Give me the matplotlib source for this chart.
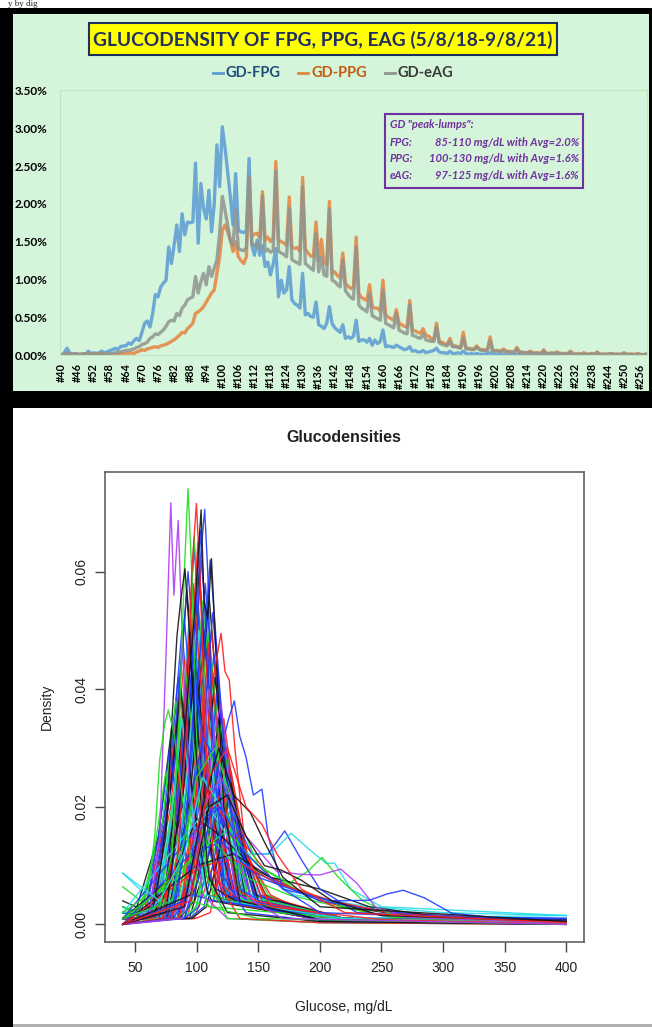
import matplotlib
matplotlib.use('Agg')
import matplotlib.pyplot as plt
from matplotlib.patches import Rectangle
from matplotlib.lines import Line2D

# tamanho da imagem em pixels
W, H = 652, 1027

# --- dados do grafico de cima (percentual por valor de glicose) ---
glicose = list(range(40, 259))

fpg = [
    0.00, 0.03, 0.09, 0.03, 0.01, 0.02, 0.01, 0.01, 0.02, 0.01,
    0.05, 0.02, 0.03, 0.02, 0.03, 0.05, 0.03, 0.04, 0.06, 0.07,
    0.09, 0.07, 0.11, 0.12, 0.12, 0.16, 0.14, 0.19, 0.22, 0.19,
    0.30, 0.42, 0.45, 0.37, 0.55, 0.80, 0.77, 0.90, 0.95, 0.99,
    1.43, 1.21, 1.45, 1.72, 1.37, 1.87, 1.59, 1.76, 1.75, 1.76,
    2.54, 1.48, 2.27, 1.94, 1.80, 2.18, 1.63, 2.00, 2.78, 2.23,
    3.02, 2.75, 2.42, 2.10, 1.72, 2.40, 1.65, 1.63, 1.62, 1.65,
    2.60, 1.46, 1.32, 1.52, 1.32, 1.45, 1.17, 1.23, 1.06, 1.20,
    1.41, 0.77, 0.99, 0.82, 0.86, 1.17, 0.73, 0.68, 0.66, 0.62,
    1.08, 0.53, 0.55, 0.51, 0.50, 0.70, 0.40, 0.38, 0.35, 0.42,
    0.64, 0.42, 0.36, 0.33, 0.30, 0.40, 0.22, 0.24, 0.22, 0.25,
    0.46, 0.18, 0.20, 0.20, 0.17, 0.22, 0.13, 0.20, 0.15, 0.18,
    0.33, 0.11, 0.12, 0.11, 0.10, 0.13, 0.11, 0.09, 0.07, 0.08,
    0.11, 0.05, 0.06, 0.04, 0.04, 0.06, 0.03, 0.04, 0.05, 0.06,
    0.09, 0.04, 0.03, 0.03, 0.02, 0.05, 0.02, 0.02, 0.03, 0.02,
    0.05, 0.02, 0.01, 0.02, 0.01, 0.02, 0.01, 0.01, 0.01, 0.02,
    0.03, 0.01, 0.01, 0.00, 0.01, 0.01, 0.00, 0.01, 0.00, 0.00,
    0.01, 0.00, 0.00, 0.01, 0.00, 0.01, 0.00, 0.00, 0.00, 0.00,
    0.01, 0.00, 0.00, 0.00, 0.00, 0.01, 0.00, 0.00, 0.00, 0.00,
    0.01, 0.00, 0.00, 0.00, 0.00, 0.00, 0.00, 0.00, 0.00, 0.00,
    0.01, 0.00, 0.00, 0.00, 0.00, 0.00, 0.00, 0.00, 0.00, 0.00,
    0.01, 0.00, 0.00, 0.00, 0.00, 0.00, 0.00, 0.00, 0.00,
]

ppg = [
    0.00, 0.01, 0.02, 0.01, 0.01, 0.00, 0.01, 0.00, 0.01, 0.01,
    0.02, 0.01, 0.01, 0.02, 0.01, 0.01, 0.01, 0.00, 0.01, 0.01,
    0.01, 0.01, 0.02, 0.01, 0.02, 0.02, 0.03, 0.02, 0.04, 0.05,
    0.07, 0.06, 0.08, 0.09, 0.10, 0.11, 0.10, 0.12, 0.13, 0.14,
    0.16, 0.18, 0.20, 0.23, 0.26, 0.30, 0.29, 0.35, 0.38, 0.42,
    0.55, 0.57, 0.60, 0.64, 0.70, 0.76, 0.82, 0.86, 1.08, 1.30,
    1.65, 1.72, 1.63, 1.52, 1.37, 1.50, 1.30, 1.25, 1.21, 1.30,
    2.32, 1.57, 1.60, 1.61, 1.55, 2.16, 1.52, 1.56, 1.50, 1.55,
    2.56, 1.52, 1.50, 1.48, 1.45, 2.09, 1.43, 1.41, 1.42, 1.37,
    2.35, 1.40, 1.35, 1.31, 1.30, 1.76, 1.25, 1.53, 1.22, 1.20,
    2.03, 1.08, 1.10, 1.05, 1.02, 1.35, 0.95, 0.91, 0.88, 0.90,
    1.56, 0.81, 0.76, 0.74, 0.72, 0.93, 0.64, 0.62, 0.62, 0.58,
    0.99, 0.53, 0.50, 0.48, 0.46, 0.60, 0.42, 0.40, 0.38, 0.37,
    0.72, 0.33, 0.32, 0.30, 0.29, 0.35, 0.26, 0.25, 0.22, 0.20,
    0.42, 0.18, 0.17, 0.15, 0.14, 0.22, 0.12, 0.12, 0.11, 0.10,
    0.30, 0.09, 0.09, 0.08, 0.08, 0.12, 0.08, 0.07, 0.07, 0.07,
    0.24, 0.06, 0.06, 0.06, 0.05, 0.08, 0.05, 0.05, 0.04, 0.04,
    0.10, 0.04, 0.04, 0.03, 0.03, 0.05, 0.03, 0.03, 0.03, 0.02,
    0.07, 0.02, 0.02, 0.03, 0.02, 0.04, 0.02, 0.02, 0.02, 0.02,
    0.05, 0.02, 0.01, 0.02, 0.01, 0.03, 0.01, 0.01, 0.02, 0.01,
    0.04, 0.01, 0.01, 0.01, 0.01, 0.02, 0.01, 0.01, 0.01, 0.01,
    0.03, 0.01, 0.01, 0.01, 0.01, 0.02, 0.01, 0.00, 0.01,
]

eag = [
    0.00, 0.01, 0.03, 0.01, 0.01, 0.01, 0.01, 0.00, 0.01, 0.01,
    0.02, 0.01, 0.01, 0.01, 0.01, 0.02, 0.01, 0.01, 0.02, 0.02,
    0.03, 0.03, 0.04, 0.05, 0.06, 0.06, 0.07, 0.08, 0.10, 0.11,
    0.14, 0.15, 0.17, 0.22, 0.24, 0.28, 0.27, 0.30, 0.33, 0.38,
    0.44, 0.46, 0.45, 0.55, 0.52, 0.62, 0.66, 0.73, 0.75, 0.77,
    1.04, 0.82, 0.97, 1.08, 0.93, 1.17, 1.04, 1.15, 1.26, 1.61,
    2.10, 1.92, 1.72, 1.52, 1.45, 1.92, 1.41, 1.39, 1.38, 1.42,
    2.36, 1.48, 1.45, 1.46, 1.40, 2.10, 1.37, 1.40, 1.36, 1.38,
    2.43, 1.37, 1.35, 1.33, 1.30, 1.94, 1.26, 1.24, 1.22, 1.20,
    2.23, 1.21, 1.18, 1.15, 1.12, 1.61, 1.10, 1.30, 1.06, 1.04,
    1.93, 0.99, 0.97, 0.93, 0.90, 1.26, 0.85, 0.80, 0.76, 0.74,
    1.43, 0.66, 0.62, 0.60, 0.57, 0.81, 0.52, 0.50, 0.48, 0.46,
    0.86, 0.42, 0.40, 0.38, 0.36, 0.55, 0.33, 0.31, 0.29, 0.28,
    0.66, 0.26, 0.25, 0.23, 0.22, 0.28, 0.20, 0.19, 0.18, 0.18,
    0.37, 0.16, 0.14, 0.13, 0.12, 0.18, 0.11, 0.11, 0.10, 0.09,
    0.22, 0.08, 0.08, 0.07, 0.07, 0.10, 0.07, 0.06, 0.06, 0.06,
    0.19, 0.05, 0.05, 0.05, 0.04, 0.06, 0.04, 0.04, 0.04, 0.03,
    0.08, 0.03, 0.03, 0.03, 0.03, 0.04, 0.02, 0.02, 0.02, 0.02,
    0.05, 0.02, 0.02, 0.02, 0.02, 0.03, 0.02, 0.02, 0.01, 0.01,
    0.04, 0.01, 0.01, 0.01, 0.01, 0.02, 0.01, 0.01, 0.01, 0.01,
    0.03, 0.01, 0.01, 0.01, 0.01, 0.02, 0.01, 0.01, 0.01, 0.01,
    0.02, 0.01, 0.01, 0.01, 0.00, 0.01, 0.01, 0.00, 0.01,
]

nomes_series = ['GD-FPG', 'GD-PPG', 'GD-eAG']
rotulos_x = ['#%d' % v for v in range(40, 257, 6)]
caixa_texto = [
    ('FPG:', '85-110 mg/dL with Avg=2.0%'),
    ('PPG:', '100-130 mg/dL with Avg=1.6%'),
    ('eAG:', '97-125 mg/dL with Avg=1.6%'),
]

# --- dados do grafico de baixo: curvas de densidade ---
# (cor, pontos de glicose, densidade)
curvas = [
    ('b', [40, 58, 77, 88, 100, 120, 200, 400], [.001, .001, .022, .050, .022, .004, .0008, .0002]),
    ('k', [40, 62, 81, 92, 104, 124, 200, 400], [.002, .001, .026, .057, .026, .004, .0008, .0002]),
    ('r', [40, 65, 84, 95, 107, 127, 200, 400], [.001, .001, .023, .052, .023, .005, .001, .0002]),
    ('g', [40, 67, 86, 97, 109, 129, 200, 400], [.0064, .002, .026, .058, .026, .004, .0008, .0001]),
    ('b', [40, 68, 87, 98, 110, 130, 200, 400], [.003, .001, .029, .064, .029, .004, .0008, .0002]),
    ('c', [40, 69, 88, 99, 111, 131, 200, 400], [.0087, .003, .022, .048, .022, .004, .001, .0015]),
    ('m', [40, 71, 90, 101, 113, 133, 200, 400], [0, .001, .020, .045, .020, .004, .0008, .0001]),
    ('k', [40, 72, 91, 102, 114, 134, 200, 400], [.004, .001, .027, .060, .027, .004, .0008, .0008]),
    ('r', [40, 74, 93, 104, 116, 136, 200, 400], [.001, .001, .028, .062, .028, .004, .0008, .0002]),
    ('g', [40, 75, 94, 105, 117, 137, 200, 400], [.001, .001, .025, .055, .025, .004, .0008, .0002]),
    ('b', [40, 77, 96, 107, 119, 139, 200, 400], [.002, .001, .026, .058, .026, .004, .001, .001]),
    ('c', [40, 78, 97, 108, 120, 140, 200, 400], [.001, .001, .023, .052, .023, .004, .0008, .0002]),
    ('k', [40, 80, 99, 110, 122, 142, 200, 400], [.001, .001, .025, .056, .025, .004, .0008, .0002]),
    ('r', [40, 82, 101, 112, 124, 144, 200, 400], [.001, .001, .022, .050, .022, .005, .001, .0002]),
    ('g', [40, 72, 89, 98, 107, 125, 200, 400], [.001, .001, .030, .066, .030, .004, .0008, .0002]),
    ('b', [40, 75, 93, 103, 113, 133, 200, 400], [.001, .001, .030, .067, .030, .004, .0008, .0002]),
    ('k', [40, 66, 85, 96, 108, 128, 200, 400], [.001, .001, .022, .050, .022, .004, .0008, .0002]),
    ('r', [40, 60, 79, 90, 102, 122, 200, 400], [.001, .001, .020, .045, .020, .004, .0008, .0002]),
    ('b', [40, 55, 74, 85, 97, 117, 200, 400], [.002, .002, .019, .042, .019, .004, .0008, .0002]),
    ('g', [40, 53, 72, 83, 95, 115, 200, 400], [.003, .002, .017, .038, .017, .004, .0008, .0002]),
    ('k', [40, 50, 69, 80, 92, 112, 200, 400], [.002, .002, .015, .034, .015, .004, .0008, .0002]),
    ('b', [40, 84, 103, 114, 126, 146, 200, 400], [.001, .001, .021, .046, .021, .005, .001, .0002]),
    ('r', [40, 86, 105, 116, 128, 148, 200, 400], [.001, .001, .020, .044, .020, .005, .001, .0002]),
    ('c', [40, 88, 107, 118, 130, 150, 200, 400], [.001, .001, .018, .040, .018, .005, .001, .0002]),
    ('b', [40, 90, 109, 120, 132, 152, 200, 400], [.001, .001, .016, .036, .016, .005, .001, .0002]),
    ('k', [40, 94, 113, 124, 136, 156, 200, 400], [.001, .001, .014, .030, .014, .005, .001, .0003]),
    ('g', [40, 96, 115, 126, 138, 158, 200, 400], [.001, .001, .013, .028, .013, .005, .001, .0003]),
    ('r', [40, 98, 117, 128, 140, 160, 200, 400], [.001, .001, .012, .026, .012, .005, .001, .0003]),
    ('b', [40, 63, 82, 93, 105, 125, 200, 400], [.001, .001, .027, .060, .027, .004, .0008, .0002]),
    ('c', [40, 65, 84, 95, 107, 127, 200, 400], [.001, .001, .025, .055, .025, .004, .0008, .0002]),
    ('m', [40, 67, 86, 97, 109, 129, 200, 400], [.001, .001, .023, .052, .023, .004, .0008, .0002]),
    ('r', [40, 73, 90, 101, 110, 128, 200, 400], [.001, .001, .029, .065, .029, .004, .0008, .0002]),
    ('b', [40, 81, 100, 111, 123, 143, 200, 400], [.001, .001, .028, .062, .028, .005, .001, .0002]),
    ('g', [40, 79, 98, 109, 121, 141, 200, 400], [.001, .001, .022, .050, .022, .004, .0008, .0002]),
    ('k', [40, 85, 104, 115, 127, 147, 200, 400], [.001, .001, .019, .042, .019, .005, .001, .0002]),
    ('b', [40, 70, 89, 100, 112, 132, 200, 400], [.001, .001, .025, .055, .025, .004, .0008, .0002]),
    ('c', [40, 74, 93, 104, 116, 136, 200, 400], [.001, .001, .020, .045, .020, .004, .0008, .0002]),
    ('r', [40, 56, 75, 86, 98, 118, 200, 400], [.001, .001, .018, .040, .018, .004, .0008, .0002]),
    ('b', [40, 60, 79, 90, 102, 122, 200, 400], [.001, .001, .023, .052, .023, .004, .0008, .0002]),
    ('k', [40, 76, 95, 106, 118, 138, 200, 400], [.001, .001, .022, .050, .022, .004, .0008, .0002]),
    ('g', [40, 82, 101, 112, 124, 144, 200, 400], [.001, .001, .020, .045, .020, .005, .001, .0002]),
    ('b', [40, 87, 106, 117, 129, 149, 200, 400], [.001, .001, .018, .040, .018, .005, .001, .0002]),
    ('r', [40, 92, 111, 122, 134, 154, 200, 400], [.001, .001, .016, .035, .016, .005, .001, .0002]),
    ('k', [40, 69, 88, 99, 111, 131, 200, 400], [.001, .001, .020, .045, .020, .004, .0008, .0002]),
    ('b', [40, 65, 84, 95, 107, 127, 200, 400], [.001, .001, .020, .045, .020, .004, .0008, .0002]),
    ('c', [40, 82, 101, 112, 124, 144, 200, 400], [.001, .001, .016, .035, .016, .005, .001, .0002]),
    # mais curvas do miolo, formato de sino
    ('b', [40, 68, 80, 90, 100, 111, 122, 138, 220, 400], [.001, .001, .004, .020, .040, .020, .005, .004, .001, .0002]),
    ('r', [40, 76, 88, 98, 108, 119, 130, 146, 220, 400], [.001, .001, .004, .019, .038, .019, .005, .004, .001, .0002]),
    ('k', [40, 86, 98, 108, 118, 129, 140, 156, 220, 400], [.001, .001, .004, .018, .035, .018, .004, .004, .001, .0002]),
    ('g', [40, 83, 95, 105, 115, 126, 137, 153, 220, 400], [.001, .001, .003, .016, .032, .016, .004, .004, .001, .0002]),
    ('b', [40, 90, 102, 112, 122, 133, 144, 160, 220, 400], [.001, .001, .003, .015, .030, .015, .004, .004, .001, .0002]),
    ('c', [40, 70, 82, 92, 102, 113, 124, 140, 220, 400], [.001, .001, .005, .025, .050, .025, .006, .004, .001, .0002]),
    ('k', [40, 62, 74, 84, 94, 105, 116, 132, 220, 400], [.002, .001, .005, .024, .047, .024, .006, .004, .001, .0002]),
    ('r', [40, 65, 77, 87, 97, 108, 119, 135, 220, 400], [.001, .001, .006, .029, .058, .029, .007, .004, .001, .0002]),
    ('b', [40, 73, 85, 95, 105, 116, 127, 143, 220, 400], [.001, .001, .005, .026, .052, .026, .006, .004, .001, .0002]),
    ('g', [40, 59, 71, 81, 91, 102, 113, 129, 220, 400], [.002, .001, .004, .022, .043, .022, .005, .004, .001, .0002]),
    ('b', [40, 94, 106, 116, 126, 137, 148, 164, 220, 400], [.001, .001, .003, .013, .026, .013, .004, .004, .001, .0002]),
    ('r', [40, 99, 111, 121, 131, 142, 153, 169, 220, 400], [.001, .001, .002, .011, .022, .011, .004, .004, .001, .0002]),
    ('k', [40, 96, 108, 118, 128, 139, 150, 166, 220, 400], [.001, .001, .003, .012, .024, .012, .004, .004, .001, .0002]),
    ('c', [40, 88, 100, 110, 120, 131, 142, 158, 220, 400], [.001, .001, .003, .014, .028, .014, .004, .004, .001, .0002]),
    ('m', [40, 78, 90, 100, 110, 121, 132, 148, 220, 400], [.001, .001, .004, .020, .040, .020, .005, .004, .001, .0002]),
    ('g', [40, 88, 100, 110, 120, 131, 142, 158, 220, 400], [.001, .001, .003, .017, .034, .017, .004, .004, .001, .0002]),
    ('b', [40, 81, 93, 103, 113, 124, 135, 151, 220, 400], [.001, .001, .005, .026, .053, .026, .006, .004, .001, .0002]),
    ('k', [40, 55, 67, 77, 87, 98, 109, 125, 220, 400], [.002, .002, .004, .020, .040, .020, .005, .004, .001, .0002]),
    ('r', [40, 78, 90, 100, 110, 121, 132, 148, 220, 400], [.001, .001, .005, .024, .048, .024, .006, .004, .001, .0002]),
    ('b', [40, 50, 60, 69, 78, 88, 98, 114, 220, 400], [.002, .002, .004, .015, .030, .015, .005, .004, .001, .0002]),
    ('g', [40, 48, 57, 66, 75, 85, 95, 111, 220, 400], [.003, .002, .004, .013, .026, .013, .004, .003, .001, .0002]),
    ('c', [40, 58, 69, 79, 88, 98, 108, 124, 220, 400], [.002, .002, .004, .017, .035, .017, .005, .004, .001, .0002]),
    # curvas largas com cauda longa
    ('k', [40, 80, 100, 120, 150, 180, 220, 280, 400], [.001, .008, .018, .015, .009, .006, .003, .0012, .0005]),
    ('r', [40, 90, 110, 130, 160, 200, 250, 400], [0, .010, .022, .016, .008, .004, .0015, .0003]),
    ('g', [40, 100, 125, 150, 180, 220, 300, 400], [0, .012, .016, .010, .006, .003, .001, .0003]),
    ('c', [40, 90, 110, 140, 180, 240, 300, 400], [.002, .015, .020, .010, .005, .003, .002, .0015]),
    ('b', [40, 95, 115, 145, 200, 260, 330, 400], [.001, .015, .020, .009, .004, .002, .0012, .001]),
    ('k', [40, 100, 130, 160, 200, 240, 300, 400], [0, .010, .012, .008, .006, .003, .0012, .0004]),
    ('b', [40, 95, 120, 150, 190, 230, 280, 400], [0, .012, .014, .008, .005, .003, .0015, .0006]),
    ('r', [40, 105, 130, 165, 210, 260, 400], [0, .010, .011, .007, .004, .0018, .0003]),
    ('g', [40, 85, 110, 140, 175, 215, 260, 400], [.001, .008, .015, .008, .005, .003, .0012, .0002]),
    # curvas que se destacam
    ('m', [40, 62, 70, 75, 79, 81.5, 85, 89, 95, 105, 125, 200, 400],
          [0, .002, .015, .045, .0717, .056, .0687, .045, .020, .005, .001, .0003, 0]),
    ('g', [40, 68, 80, 86, 90, 93, 96, 100, 108, 125, 200, 400],
          [0, .001, .012, .035, .060, .0741, .060, .030, .008, .001, .0003, 0]),
    ('r', [40, 72, 85, 92, 96, 99.8, 103, 107, 115, 135, 200, 400],
          [0, .001, .012, .035, .060, .0716, .058, .030, .008, .001, .0003, 0]),
    ('b', [40, 78, 90, 98, 103, 106.5, 109, 113, 122, 140, 200, 400],
          [0, .001, .012, .038, .062, .0706, .060, .030, .008, .002, .0005, 0]),
    ('k', [40, 75, 86, 93, 98, 103.6, 106, 109, 112, 116, 122, 135, 200, 400],
          [0, .002, .020, .040, .052, .0705, .055, .052, .0622, .045, .020, .004, .0008, 0]),
    ('k', [40, 65, 75, 80, 84, 87, 90.5, 94, 100, 110, 125, 200, 400],
          [.001, .003, .015, .035, .049, .055, .0605, .050, .028, .008, .002, .0005, 0]),
    ('g', [40, 60, 66, 70, 74, 77, 82, 88, 96, 110, 150, 400],
          [.002, .005, .015, .028, .034, .0365, .032, .022, .010, .003, .001, 0]),
    ('r', [40, 85, 98, 106, 112, 116, 119.8, 123, 126.5, 131, 140, 160, 250, 400],
          [0, .001, .010, .025, .040, .045, .0495, .043, .0415, .030, .012, .003, .0008, .0001]),
    ('b', [40, 90, 102, 112, 120, 126, 130.6, 135, 140, 146, 153, 158, 170, 200, 400],
          [0, .001, .008, .020, .030, .035, .038, .032, .0285, .022, .023, .015, .006, .002, .0005]),
    ('m', [40, 88, 100, 108, 114, 119.8, 125, 132, 145, 170, 400],
          [0, .001, .010, .022, .032, .0376, .028, .012, .004, .001, 0]),
    ('b', [40, 80, 95, 105, 115, 130, 145, 158, 171.5, 185, 200, 230, 400],
          [.001, .004, .020, .032, .028, .018, .012, .012, .0159, .011, .006, .002, .0003]),
    ('c', [40, 70, 90, 105, 120, 140, 160, 176.6, 190, 205, 212, 225, 250, 400],
          [.0087, .004, .012, .025, .020, .012, .012, .0155, .013, .0104, .0104, .006, .003, .0015]),
    ('g', [40, 80, 100, 115, 130, 150, 175, 190, 201.8, 215, 235, 260, 400],
          [.001, .004, .025, .030, .020, .010, .007, .009, .0114, .008, .004, .0015, .0002]),
    ('m', [40, 90, 105, 120, 140, 165, 185, 200, 217, 230, 245, 270, 400],
          [0, .003, .020, .025, .015, .009, .0085, .0084, .0094, .007, .003, .0012, .0002]),
    ('b', [40, 90, 105, 120, 140, 170, 210, 240, 255, 267.7, 285, 307, 340, 400],
          [0, .004, .018, .020, .012, .006, .004, .0041, .0052, .0058, .0045, .0019, .0012, .001]),
    ('k', [40, 95, 110, 125, 140, 155, 169, 185, 210, 250, 400],
          [0, .005, .020, .022, .015, .010, .0092, .0075, .004, .0015, .0005]),
    ('k', [40, 90, 105, 118, 130, 143.6, 155, 170, 200, 400],
          [0, .003, .020, .030, .022, .019, .014, .008, .003, .0005]),
    ('r', [40, 95, 110, 125, 140, 153, 165, 185, 220, 400],
          [0, .004, .025, .030, .020, .017, .012, .006, .002, .0003]),
]

cores_r = {'k': '#151515', 'r': '#FF1E1E', 'g': '#22DD22', 'b': '#1E3CFF',
           'c': '#25DDE8', 'm': '#B03CF0'}


def fx(px):
    return px / W


def fy(py):
    return 1 - py / H


def ret(fig, x0, y0, x1, y1, **kw):
    # retangulo em coordenadas de pixel da figura
    fig.add_artist(Rectangle((fx(x0), fy(y1)), (x1 - x0) / W, (y1 - y0) / H,
                             transform=fig.transFigure, **kw))


fig = plt.figure(figsize=(W / 100, H / 100), dpi=100)
fig.patch.set_facecolor('white')

# molduras pretas e fundos
ret(fig, 0, 8, W, 408, facecolor='black', edgecolor='none', zorder=0)
ret(fig, 13, 14, 649, 391, facecolor='#D4F5D9', edgecolor='none', zorder=0)
ret(fig, 0, 408, 13, H, facecolor='black', edgecolor='none', zorder=0)
ret(fig, 13, 1024, W, H, facecolor='#B0B0B0', edgecolor='none', zorder=0)

# pedaco de texto no topo
fig.text(fx(8), fy(6), 'y by dig', fontsize=6.5, family='Liberation Serif',
         va='baseline', ha='left', color='#222222')

# ---------------- grafico de cima ----------------
fonte = 'Lato'
ax1 = fig.add_axes([fx(60), fy(355), 587 / W, 264.5 / H])
ax1.patch.set_visible(False)

cores_linha = ['#5B9BD5', '#E58340', '#8F958F']
for serie, cor in zip([fpg, ppg, eag], cores_linha):
    ax1.plot(glicose, serie, color=cor, lw=2.4, alpha=0.85, solid_joinstyle='round')

ax1.set_xlim(39.4, 258.6)
ax1.set_ylim(0, 3.5)
ax1.set_xticks(range(40, 257, 6))
ax1.set_xticklabels(rotulos_x, rotation=90, fontsize=7.8, fontweight='bold', family=fonte)
ax1.set_yticks([0, 0.5, 1, 1.5, 2, 2.5, 3, 3.5])
ax1.set_yticklabels(['%.2f%%' % v for v in [0, 0.5, 1, 1.5, 2, 2.5, 3, 3.5]],
                    fontsize=8.5, fontweight='bold', family=fonte)
ax1.tick_params(axis='x', length=0, pad=6)
ax1.tick_params(axis='y', length=0, pad=9)
for lado in ax1.spines.values():
    lado.set_color('#C2E3C6')
    lado.set_linewidth(0.8)

# titulo amarelo
ret(fig, 89, 23, 557, 55, facecolor='#FFFF00', edgecolor='#1F3060', lw=1.5, zorder=3)
fig.text(fx(323), fy(39.5), 'GLUCODENSITY OF FPG, PPG, EAG (5/8/18-9/8/21)',
         ha='center', va='center', fontsize=13.8, fontweight='bold', family=fonte,
         color='#1F3060', zorder=4)

# legenda
cores_legenda = ['#1F4E79', '#C55A11', '#3A3A3A']
pos_legenda = [213, 298, 385]
for nome, x0, cor, cor_txt in zip(nomes_series, pos_legenda, cores_linha, cores_legenda):
    fig.add_artist(Line2D([fx(x0), fx(x0 + 10)], [fy(73), fy(73)], color=cor, lw=2,
                          transform=fig.transFigure))
    fig.text(fx(x0 + 13), fy(73), nome, ha='left', va='center', fontsize=10.5,
             fontweight='bold', family=fonte, color=cor_txt)

# caixa com os "peak-lumps"
roxo = '#7030A0'
ret(fig, 385, 114, 583, 188, facecolor='none', edgecolor=roxo, lw=1.5, zorder=3)
fig.text(fx(390), fy(125), 'GD "peak-lumps":', ha='left', va='center', fontsize=8,
         fontweight='bold', style='italic', family=fonte, color=roxo)
for i, (rot, resto) in enumerate(caixa_texto):
    yy = fy(142 + i * 16.7)
    fig.text(fx(390), yy, rot, ha='left', va='center', fontsize=8,
             fontweight='bold', style='italic', family=fonte, color=roxo)
    fig.text(fx(579), yy, resto, ha='right', va='center', fontsize=8,
             fontweight='bold', style='italic', family=fonte, color=roxo)

# ---------------- grafico de baixo ----------------
fonte2 = 'Liberation Sans'
ax2 = fig.add_axes([fx(105), fy(942), 479 / W, 470.3 / H])
for cor, xs, ys in curvas:
    ax2.plot(xs, ys, color=cores_r[cor], lw=1.0, alpha=0.9)

ax2.set_xlim(25.6, 414.4)
ax2.set_ylim(-0.003, 0.077)
ax2.set_xticks(range(50, 401, 50))
ax2.set_xticklabels([str(v) for v in range(50, 401, 50)], fontsize=10, family=fonte2,
                    color='#222222')
ax2.set_yticks([0, 0.02, 0.04, 0.06])
ax2.set_yticklabels(['0.00', '0.02', '0.04', '0.06'], rotation=90, va='center',
                    fontsize=10, family=fonte2, color='#222222')
ax2.tick_params(direction='out', length=7, width=1, color='#444444')
ax2.tick_params(axis='x', pad=7)
ax2.tick_params(axis='y', pad=5)
for lado in ax2.spines.values():
    lado.set_color('#555555')
    lado.set_linewidth(1.1)

fig.text(fx(344), fy(437), 'Glucodensities', ha='center', va='center', fontsize=11.5,
         fontweight='bold', family=fonte2, color='#222222')
fig.text(fx(344), fy(1007), 'Glucose, mg/dL', ha='center', va='center', fontsize=10,
         family=fonte2, color='#222222')
fig.text(fx(47), fy(707), 'Density', ha='center', va='center', rotation=90, fontsize=10,
         family=fonte2, color='#222222')

fig.savefig('out.png', dpi=100)
